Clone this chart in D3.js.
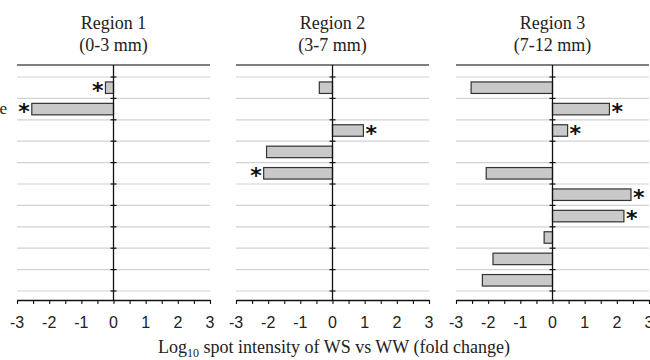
<!DOCTYPE html>
<html>
<head>
<meta charset="utf-8">
<script src="https://cdn.jsdelivr.net/npm/d3@7"></script>
<style>
  body { margin: 0; background: #fff; }
  svg { display: block; }
</style>
</head>
<body>
<svg id="chart" width="650" height="360"></svg>
<script>
// Data (log10 fold change per spot row, null = no bar)
const rows = ['r1', 'r2', 'r3', 'r4', 'r5', 'r6', 'r7', 'r8', 'r9', 'r10'];
const rowLabels = ['', 'Protease', '', '', '', '', '', '', '', ''];
const regionTitles = ['Region 1', 'Region 2', 'Region 3'];
const regionRanges = ['(0-3 mm)', '(3-7 mm)', '(7-12 mm)'];
const region1 = [-0.25, -2.54, null, null, null, null, null, null, null, null];
const region2 = [-0.41, null, 0.96, -2.05, -2.14, null, null, null, null, null];
const region3 = [-2.53, 1.77, 0.47, null, -2.06, 2.44, 2.22, -0.26, -1.85, -2.18];
const sig1 = [true, true, false, false, false, false, false, false, false, false];
const sig2 = [false, false, true, false, true, false, false, false, false, false];
const sig3 = [false, true, true, false, false, true, true, false, false, false];
const xTicks = [-3, -2, -1, 0, 1, 2, 3];
const axisTitle = 'spot intensity of WS vs WW (fold change)';

const panels = [
  { left: 17, values: region1, sig: sig1 },
  { left: 236, values: region2, sig: sig2 },
  { left: 456, values: region3, sig: sig3 }
];
const panelW = 193;
const topY = 65, axisY = 300;
const serif = 'Liberation Serif, Times New Roman, serif';

const svg = d3.select('#chart');

const y = d3.scaleBand()
  .domain(rows)
  .range([77, 291])
  .paddingInner(0)
  .paddingOuter(0);
const barH = 11.5;

// row label (cut off at the left edge, as in the source figure)
svg.append('g')
  .selectAll('text')
  .data(rows)
  .enter().append('text')
  .attr('x', 7)
  .attr('y', d => y(d) + y.bandwidth() / 2 + 5)
  .attr('text-anchor', 'end')
  .attr('font-family', serif)
  .attr('font-size', '17px')
  .attr('fill', '#222')
  .text((d, i) => rowLabels[i]);

panels.forEach((p, k) => {
  const x = d3.scaleLinear().domain([-3, 3]).range([p.left, p.left + panelW]);
  const g = svg.append('g');

  // titles
  g.append('text')
    .attr('x', x(0)).attr('y', 29)
    .attr('text-anchor', 'middle')
    .attr('font-family', serif)
    .attr('font-size', '18px')
    .attr('fill', '#222')
    .text(regionTitles[k]);
  g.append('text')
    .attr('x', x(0)).attr('y', 51)
    .attr('text-anchor', 'middle')
    .attr('font-family', serif)
    .attr('font-size', '18px')
    .attr('fill', '#222')
    .text(regionRanges[k]);

  // gridlines at band boundaries
  const bounds = rows.map(r => y(r)).concat([y.range()[1]]);
  g.append('g')
    .selectAll('line')
    .data(bounds)
    .enter().append('line')
    .attr('x1', x(-3)).attr('x2', x(3))
    .attr('y1', d => d).attr('y2', d => d)
    .attr('stroke', '#d2d2d2')
    .attr('stroke-width', 1.2);

  // top frame line
  g.append('line')
    .attr('x1', x(-3)).attr('x2', x(3))
    .attr('y1', topY).attr('y2', topY)
    .attr('stroke', '#555')
    .attr('stroke-width', 1.3);

  // bars
  const data = p.values.map((v, i) => ({ row: rows[i], v: v, sig: p.sig[i] }))
    .filter(d => d.v !== null);

  g.append('g')
    .selectAll('rect')
    .data(data)
    .enter().append('rect')
    .attr('x', d => x(Math.min(0, d.v)))
    .attr('y', d => y(d.row) + (y.bandwidth() - barH) / 2)
    .attr('width', d => Math.abs(x(d.v) - x(0)))
    .attr('height', barH)
    .attr('fill', '#c9c9c9')
    .attr('stroke', '#333')
    .attr('stroke-width', 1.2);

  // significance stars
  g.append('g')
    .selectAll('text')
    .data(data.filter(d => d.sig))
    .enter().append('text')
    .attr('x', d => d.v < 0 ? x(d.v) - 2 : x(d.v) + 2)
    .attr('y', d => y(d.row) + y.bandwidth() / 2 + 10)
    .attr('text-anchor', d => d.v < 0 ? 'end' : 'start')
    .attr('font-family', 'DejaVu Sans, sans-serif')
    .attr('font-weight', 'bold')
    .attr('font-size', '22px')
    .attr('fill', '#111')
    .text('*');

  // zero line
  g.append('line')
    .attr('x1', x(0)).attr('x2', x(0))
    .attr('y1', topY).attr('y2', axisY)
    .attr('stroke', '#111')
    .attr('stroke-width', 1.3);

  // small ticks on the zero line
  g.append('g')
    .selectAll('line')
    .data(bounds)
    .enter().append('line')
    .attr('x1', x(0) - 3).attr('x2', x(0) + 3)
    .attr('y1', d => d).attr('y2', d => d)
    .attr('stroke', '#111')
    .attr('stroke-width', 1.2);

  // bottom axis
  const axis = d3.axisBottom(x)
    .tickValues(d3.range(-3, 3.01, 0.5))
    .tickSize(4)
    .tickSizeOuter(0)
    .tickFormat('');
  const ax = g.append('g')
    .attr('transform', `translate(0,${axisY})`)
    .call(axis);
  ax.select('.domain').attr('stroke', '#111').attr('stroke-width', 1.3);
  ax.selectAll('.tick line').attr('stroke', '#111').attr('stroke-width', 1.1);

  g.append('g')
    .selectAll('text')
    .data(xTicks)
    .enter().append('text')
    .attr('x', d => x(d))
    .attr('y', axisY + 28)
    .attr('text-anchor', 'middle')
    .attr('font-family', 'Liberation Sans, Arial, sans-serif')
    .attr('font-size', '16px')
    .attr('fill', '#222')
    .text(d => d);
});

// axis title with subscript
const title = svg.append('text')
  .attr('x', 334)
  .attr('y', 353)
  .attr('text-anchor', 'middle')
  .attr('font-family', serif)
  .attr('font-size', '18px')
  .attr('fill', '#222');
title.append('tspan').text('Log');
title.append('tspan').attr('font-size', '12px').attr('dy', 4).text('10');
title.append('tspan').attr('dy', -4).text(' ' + axisTitle);
</script>
</body>
</html>
